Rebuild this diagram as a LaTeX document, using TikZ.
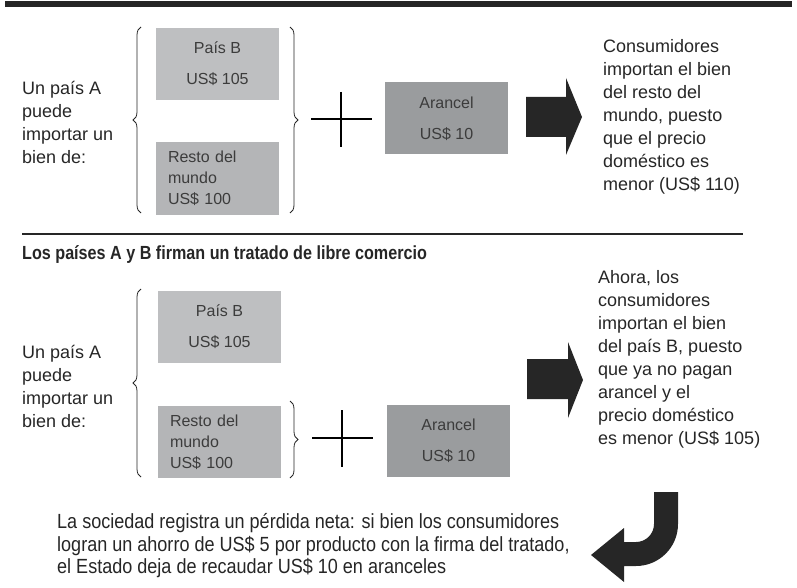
\documentclass[tikz,border=0pt]{standalone}
\usepackage{fontspec}
\setmainfont{Liberation Sans}
\newfontfamily\headfont[FakeStretch=0.85]{Liberation Sans Bold}
\newfontfamily\notefont[FakeStretch=0.88]{Liberation Sans}
\usetikzlibrary{decorations.pathreplacing}
\definecolor{inkgray}{HTML}{262626}
\definecolor{lightbox}{HTML}{BEBFC1}
\definecolor{restobox}{HTML}{B4B5B7}
\definecolor{tariffbox}{HTML}{9A9C9E}
\definecolor{boxtext}{HTML}{3C3C3C}

\begin{document}
\begin{tikzpicture}[x=1pt,y=-1pt,
	label text/.style={anchor=west,align=left,inner sep=0pt,text=inkgray,font=\fontsize{18}{23}\selectfont},
	price box/.style={fill=lightbox,minimum width=123pt,minimum height=72pt,inner sep=0pt,text=boxtext,align=center,font=\fontsize{16}{31}\selectfont},
	rest box/.style={fill=restobox,text width=99pt,inner xsep=12pt,inner ysep=0pt,minimum height=72pt,text=boxtext,align=left,font=\fontsize{16}{21}\selectfont},
	tariff box/.style={price box,fill=tariffbox},
	curly/.style={decorate,decoration={brace,amplitude=8pt},draw=inkgray,line width=0.8pt},
	cross/.style={draw=black,line width=2.6pt}]
\useasboundingbox (0,0) rectangle (797,588);

% antes del tratado
\draw[line width=6pt,draw=inkgray] (5,4) -- (792,4);
\node[label text] (can1) at (22,122) {Un país A\\puede\\importar un\\bien de:};
\node[price box] (b1) at (217.5,64) {País B\\US\$ 105};
\node[rest box] (r1) at (217.5,178.5) {Resto del\\mundo\\US\$ 100};
\draw[curly] (141,213) -- (141,27);
\draw[curly] (290,27) -- (290,213);
\draw[cross] (311,119) -- (372,119);
\draw[cross] (341,92) -- (341,147);
\node[tariff box] (t1) at (446.5,118.5) {Arancel\\US\$ 10};
\fill[inkgray] (526,97) -- (566,97) -- (566,78) -- (582,117) -- (566,155) -- (566,137) -- (526,137) -- cycle;
\node[label text] (res1) at (603,117) {Consumidores\\importan el bien\\del resto del\\mundo, puesto\\que el precio\\doméstico es\\menor (US\$ 110)};

% con el tratado
\draw[line width=2.5pt,draw=inkgray] (22,234) -- (743,234);
\node[anchor=west,inner sep=0pt,text=inkgray,font=\headfont\fontsize{19}{23}\selectfont] (head2) at (22,255) {Los países A y B firman un tratado de libre comercio};
\node[label text] (can2) at (22,386) {Un país A\\puede\\importar un\\bien de:};
\node[price box] (b2) at (219.5,327) {País B\\US\$ 105};
\node[rest box] (r2) at (219.5,442) {Resto del\\mundo\\US\$ 100};
\draw[curly] (141,477) -- (141,289);
\draw[curly] (290,401) -- (290,478);
\draw[cross] (312,438) -- (373,438);
\draw[cross] (342,410) -- (342,467);
\node[tariff box] (t2) at (448.5,441) {Arancel\\US\$ 10};
\fill[inkgray] (527,359) -- (568,359) -- (568,342) -- (583,380) -- (568,418) -- (568,399) -- (527,399) -- cycle;
\node[label text] (res2) at (598,359) {Ahora, los\\consumidores\\importan el bien\\del país B, puesto\\que ya no pagan\\arancel y el\\precio doméstico\\es menor (US\$ 105)};

% resultado
\fill[inkgray] (654,492) -- (678,492) -- (678,524) arc (0:90:42) -- (624,566) -- (624,582) -- (591,555) -- (624,528) -- (624,542) -- (636,542) arc (90:0:18) -- cycle;
\node[label text,font=\notefont\fontsize{20.5}{22.5}\selectfont] (note) at (57,546) {La sociedad registra un pérdida neta: si bien los consumidores\\logran un ahorro de US\$ 5 por producto con la firma del tratado,\\el Estado deja de recaudar US\$ 10 en aranceles};
\end{tikzpicture}
\end{document}
